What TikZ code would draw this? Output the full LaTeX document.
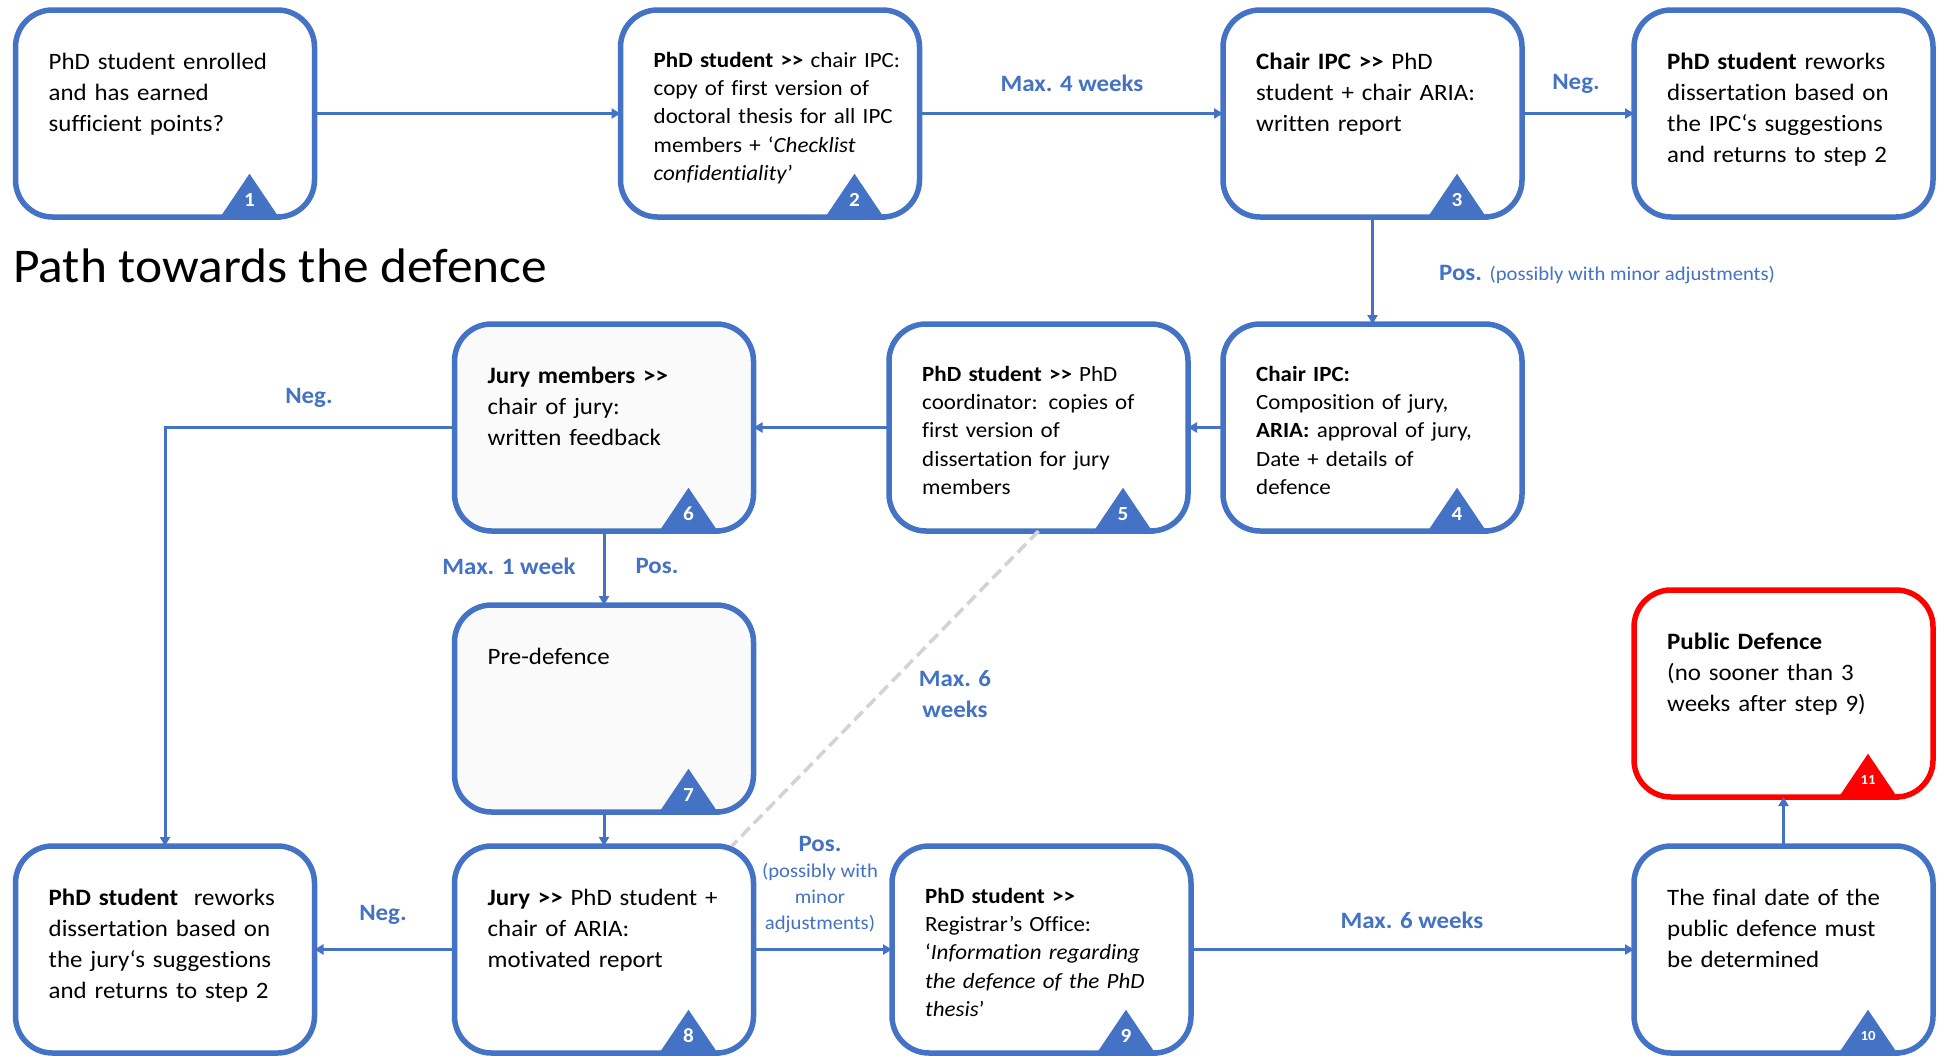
\documentclass[tikz,border=0pt]{standalone}
\usepackage{fontspec}
\setmainfont{Carlito}[FakeStretch=1.06,Ligatures={NoCommon}]
\usetikzlibrary{arrows.meta,calc}
\definecolor{ob}{HTML}{4472C4}
\definecolor{orr}{HTML}{FF0000}
\definecolor{dg}{HTML}{D3D3D3}
\newcommand\gtgt{>\kern0pt>}
\begin{document}
\begin{tikzpicture}[x=1pt,y=-1pt,
 box/.style={draw=ob, line width=5.5pt, rounded corners=37pt, minimum width=299pt, minimum height=207pt, fill=white, inner sep=0pt, outer sep=0pt},
 redbox/.style={box, draw=orr},
 greybox/.style={box, fill=black!2},
 txt/.style={anchor=base west, align=left, text width=300pt, font=\fontsize{23.5}{31}\selectfont, inner sep=0pt},
 txts/.style={txt, font=\fontsize{21.7}{28.4}\selectfont},
 lbl/.style={text=ob, font=\fontsize{23.5}{31}\selectfont\bfseries, inner sep=0pt, align=center},
 small/.style={text=ob, font=\fontsize{19.5}{26}\selectfont, inner sep=0pt, align=center},
 conn/.style={draw=ob, line width=3pt, -{Triangle[length=9pt,width=10pt]}},
 dline/.style={draw=dg, line width=3.5pt, dash pattern=on 12pt off 6pt},
 num/.style={text=white, font=\fontsize{20}{20}\selectfont\bfseries, inner sep=0pt},
 numsmall/.style={num, font=\fontsize{14}{14}\selectfont\bfseries},
]
\useasboundingbox (0,0) rectangle (1937,1055);
\fill[white] (0,0) rectangle (1937,1055);

% boxes
\node[box] (b1) at (165,113.5) {};
\node[box] (b2) at (770,113.5) {};
\node[box] (b3) at (1372.5,113.5) {};
\node[box] (b3r) at (1783.5,113.5) {};
\node[greybox] (b6) at (604,427.5) {};
\node[box] (b5) at (1038.5,427.5) {};
\node[box] (b4) at (1372.5,427.5) {};
\node[greybox] (b7) at (604,708.5) {};
\node[redbox] (b11) at (1783.5,693.5) {};
\node[box] (b8l) at (165,949.5) {};
\node[box] (b8) at (604,949.5) {};
\node[box] (b9) at (1041.5,949.5) {};
\node[box] (b10) at (1783.5,949.5) {};

% texts
\node[txt] (t1) at ($(b1.north west)+(33,59)$) {PhD student enrolled\\and has earned\\sufficient points?};
\node[txts] (t2) at ($(b2.north west)+(33,57)$) {\textbf{PhD student \gtgt} chair IPC:\\copy of first version of\\doctoral thesis for all IPC\\members + ‘\textit{Checklist}\\\textit{confidentiality}’};
\node[txt] (t3) at ($(b3.north west)+(33,59)$) {\textbf{Chair IPC \gtgt} PhD\\student + chair ARIA:\\written report};
\node[txt] (t3r) at ($(b3r.north west)+(33,59)$) {\textbf{PhD student} reworks\\dissertation based on\\the IPC‘s suggestions\\and returns to step 2};
\node[txts] (t4) at ($(b4.north west)+(33,57)$) {\textbf{Chair IPC:}\\Composition of jury,\\\textbf{ARIA:} approval of jury,\\Date + details of\\defence};
\node[txts] (t5) at ($(b5.north west)+(33,57)$) {\textbf{PhD student \gtgt} PhD\\coordinator: copies of\\first version of\\dissertation for jury\\members};
\node[txt] (t6) at ($(b6.north west)+(33,59)$) {\textbf{Jury members \gtgt}\\chair of jury:\\written feedback};
\node[txt] (t7) at ($(b7.north west)+(33,59)$) {Pre-defence};
\node[txt] (t11) at ($(b11.north west)+(33,59)$) {\textbf{Public Defence}\\(no sooner than 3\\weeks after step 9)};
\node[txt] (t8l) at ($(b8l.north west)+(33,59)$) {\textbf{PhD student}\ \ reworks\\dissertation based on\\the jury‘s suggestions\\and returns to step 2};
\node[txt] (t8) at ($(b8.north west)+(33,59)$) {\textbf{Jury \gtgt} PhD student +\\chair of ARIA:\\motivated report};
\node[txts] (t9) at ($(b9.north west)+(33,57)$) {\textbf{PhD student \gtgt}\\Registrar’s Office:\\‘\textit{Information regarding}\\\textit{the defence of the PhD}\\\textit{thesis}’};
\node[txt] (t10) at ($(b10.north west)+(33,59)$) {The final date of the\\public defence must\\be determined};

% step triangles
\foreach \b/\n/\c/\s in {b1/1/ob/num, b2/2/ob/num, b3/3/ob/num, b4/4/ob/num, b5/5/ob/num, b6/6/ob/num, b7/7/ob/num, b8/8/ob/num, b9/9/ob/num, b10/10/ob/numsmall, b11/11/orr/numsmall}{
  \fill[\c] ($(\b.south east)+(-96,2.75)$) -- ++(62,0) -- ++(-31,-46) -- cycle;
  \node[\s] (n\n) at ($(\b.south east)+(-65,-17)$) {\n};
}

% title
\node[anchor=base west, inner sep=0pt, font=\fontsize{48.5}{56}\selectfont] (title) at (13,282) {Path towards the defence};

% connectors
\draw[conn] (b1) -- (b2);
\draw[conn] (b2) -- (b3);
\draw[conn] (b3) -- (b3r);
\draw[conn] (b3) -- (b4);
\draw[conn] (b4) -- (b5);
\draw[conn] (b5) -- (b6);
\draw[conn] (b6.west) -| (b8l.north);
\draw[conn] (b6) -- (b7);
\draw[conn] (b7) -- (b8);
\draw[conn] (b8) -- (b8l);
\draw[conn] (b8) -- (b9);
\draw[conn] (b9) -- (b10);
\draw[conn] (b10) -- (b11);
\draw[dline] (b5.south) -- (b8.39);

% labels
\node[lbl] (l1) at (1072,83) {Max. 4 weeks};
\node[lbl] (l2) at (1576,84) {Neg.};
\node[lbl, anchor=west] (l3) at (1439,275) {Pos. {\mdseries\fontsize{19.5}{26}\selectfont(possibly with minor adjustments)}};
\node[lbl] (l4) at (309,398) {Neg.};
\node[lbl] (l5) at (509,566) {Max. 1 week};
\node[lbl] (l6) at (657,566) {Pos.};
\node[lbl] (l7) at (955,694) {Max. 6\\weeks};
\node[lbl] (l8) at (383,915) {Neg.};
\node[lbl] (l9) at (820,844) {Pos.};
\node[small] (l10) at (820,898) {(possibly with\\minor\\adjustments)};
\node[lbl] (l11) at (1412,920) {Max. 6 weeks};
\end{tikzpicture}
\end{document}
